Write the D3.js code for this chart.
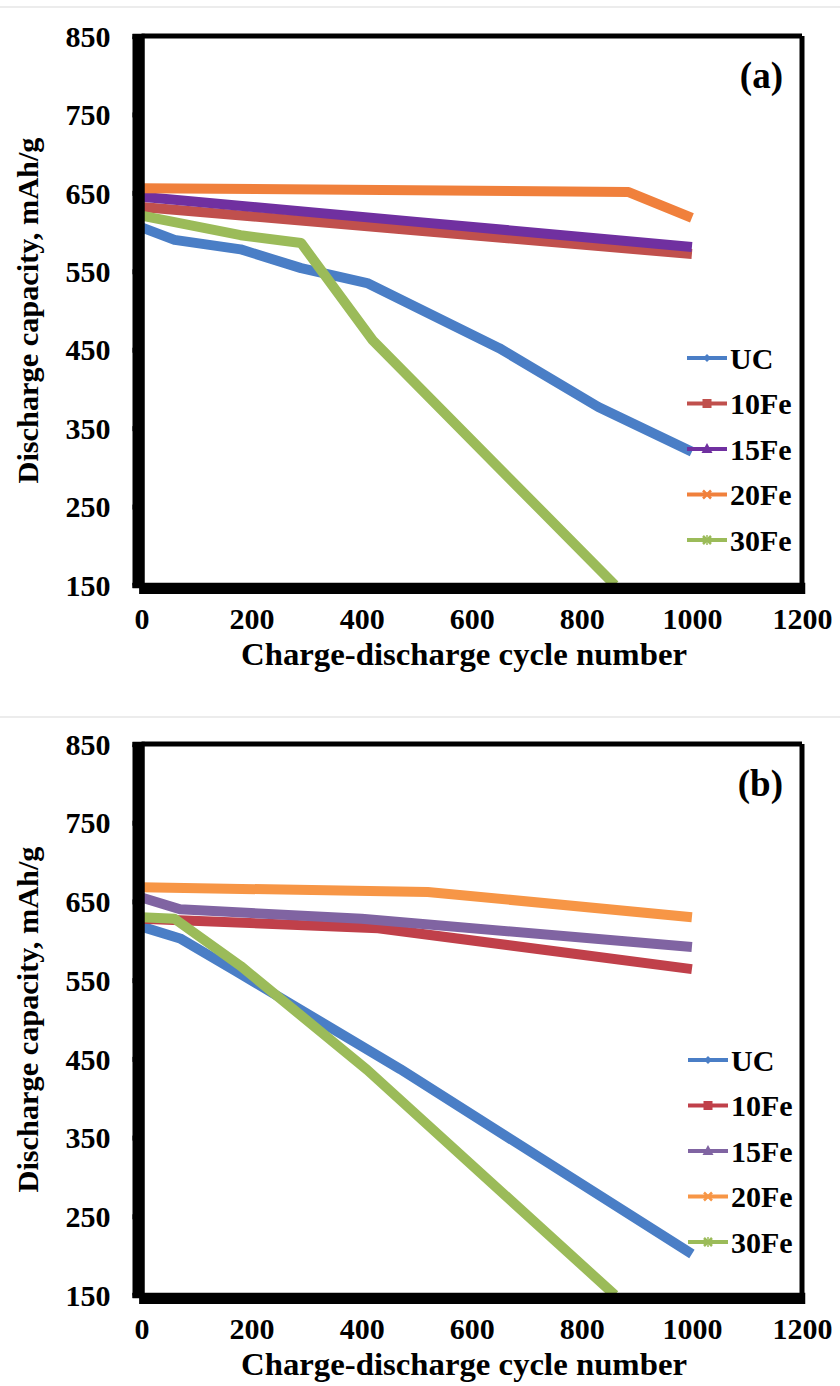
<!DOCTYPE html>
<html>
<head>
<meta charset="utf-8">
<script src="https://cdn.jsdelivr.net/npm/d3@7"></script>
<style>
  body { margin: 0; background: #fff; }
</style>
</head>
<body>
<div id="chart"></div>
<script>
'use strict'

const fontStack = '"Liberation Serif", "Times New Roman", Tinos, "DejaVu Serif", "Noto Serif", serif'

// legend labels, in drawing order
const seriesNames = ['UC', '10Fe', '15Fe', '20Fe', '30Fe']
const markerKinds = ['diamond', 'square', 'triangle', 'cross', 'star']

const xTicks = [0, 200, 400, 600, 800, 1000, 1200]
const yTicks = [150, 250, 350, 450, 550, 650, 750, 850]

// panel (a) : [cycle, discharge capacity]
const a_UC   = [[0, 606], [60, 590], [180, 578], [290, 554], [410, 535], [650, 452], [830, 377], [1000, 320]]
const a_10Fe = [[0, 632], [500, 602], [1000, 572]]
const a_15Fe = [[0, 645], [500, 613], [1000, 581]]
const a_20Fe = [[0, 656], [885, 651], [1000, 618]]
const a_30Fe = [[0, 621], [180, 596], [290, 586], [420, 462], [860, 150]]

// panel (b)
const b_UC   = [[0, 618], [70, 603], [170, 562], [470, 437], [1000, 202]]
const b_10Fe = [[0, 628], [430, 616], [1000, 564]]
const b_15Fe = [[0, 655], [70, 640], [400, 628], [1000, 592]]
const b_20Fe = [[0, 668], [520, 662], [1000, 630]]
const b_30Fe = [[0, 630], [60, 628], [180, 568], [410, 436], [860, 150]]

const colorsA = ['#4A7EC6', '#C0504D', '#7030A0', '#F0803C', '#9BBB59']
const colorsB = ['#4A7EC6', '#C0404A', '#8064A2', '#F79646', '#9BBB59']

////////////////////////////////////
//////////// svg setup /////////////
////////////////////////////////////

const svgWidth = 840
const svgHeight = 1386

const svg = d3.select('#chart').append('svg')
    .attr('width', svgWidth)
    .attr('height', svgHeight)

// faint frame lines between the two figures
svg.append('line').attr('x1', 0).attr('x2', svgWidth).attr('y1', 7).attr('y2', 7)
    .attr('stroke', '#e6e6e6').attr('stroke-width', 1.5)
svg.append('line').attr('x1', 0).attr('x2', svgWidth).attr('y1', 717).attr('y2', 717)
    .attr('stroke', '#e6e6e6').attr('stroke-width', 1.5)

function label(sel, size) {
    return sel.attr('font-family', fontStack)
        .attr('font-weight', 'bold')
        .attr('font-size', size)
        .attr('fill', '#000')
        .style('font-family', fontStack)
}

function drawPanel(cfg) {
    const left = 141.5, right = 802
    const top = cfg.top, bottom = cfg.bottom

    const xScale = d3.scaleLinear().domain([0, 1200]).range([left, right])
    const yScale = d3.scaleLinear().domain([150, 850]).range([bottom, top])

    const g = svg.append('g').attr('class', 'panel-' + cfg.tag)

    // data lines
    const line = d3.line()
        .x(d => xScale(d[0]))
        .y(d => yScale(d[1]))

    cfg.data.forEach((d, i) => {
        g.append('path')
            .datum(d)
            .attr('d', line)
            .attr('fill', 'none')
            .attr('stroke', cfg.colors[i])
            .attr('stroke-width', 10)
            .attr('stroke-linejoin', 'round')
    })

    // box: top and right plain lines
    g.append('line').attr('x1', left).attr('x2', right).attr('y1', top).attr('y2', top)
        .attr('stroke', '#000').attr('stroke-width', 5)
    g.append('line').attr('x1', right).attr('x2', right).attr('y1', top).attr('y2', bottom)
        .attr('stroke', '#000').attr('stroke-width', 5)

    // y-axis
    const yAxis = g.append('g')
        .attr('transform', `translate(${left},0)`)
        .call(d3.axisLeft(yScale).tickValues(yTicks).tickSize(9).tickPadding(22).tickFormat(d3.format('d')))
    yAxis.select('.domain').attr('stroke', '#000').attr('stroke-width', 5.5)
    yAxis.selectAll('.tick line').attr('stroke', '#000').attr('stroke-width', 5)
    label(yAxis, 30)
    label(yAxis.selectAll('.tick text'), 30).attr('dy', '0.34em')

    // x-axis
    const xAxis = g.append('g')
        .attr('transform', `translate(0,${bottom})`)
        .call(d3.axisBottom(xScale).tickValues(xTicks).tickSize(9).tickPadding(14).tickFormat(d3.format('d')))
    xAxis.select('.domain').attr('stroke', '#000').attr('stroke-width', 5.5)
    xAxis.selectAll('.tick line').attr('stroke', '#000').attr('stroke-width', 5)
    label(xAxis, 30)
    label(xAxis.selectAll('.tick text'), 30)

    // axis titles
    label(g.append('text'), 31)
        .attr('x', 464)
        .attr('y', bottom + 80)
        .attr('text-anchor', 'middle')
        .attr('textLength', 446)
        .attr('lengthAdjust', 'spacingAndGlyphs')
        .text('Charge-discharge cycle number')

    label(g.append('text'), 30)
        .attr('transform', `translate(38,${(top + bottom) / 2}) rotate(-90)`)
        .attr('text-anchor', 'middle')
        .attr('textLength', 346)
        .attr('lengthAdjust', 'spacingAndGlyphs')
        .text('Discharge capacity, mAh/g')

    // panel tag
    label(g.append('text'), 37)
        .attr('x', 783)
        .attr('y', top + 52)
        .attr('text-anchor', 'end')
        .text(`(${cfg.tag})`)

    // legend
    const legend = g.append('g')
    seriesNames.forEach((name, i) => {
        const ly = cfg.legendY + i * 45.5
        const c = cfg.colors[i]
        legend.append('line')
            .attr('x1', cfg.legendX).attr('x2', cfg.legendX + 40)
            .attr('y1', ly).attr('y2', ly)
            .attr('stroke', c).attr('stroke-width', 4)
        drawMarker(legend, markerKinds[i], cfg.legendX + 20, ly, c)
        label(legend.append('text'), 30)
            .attr('x', cfg.legendX + 43)
            .attr('y', ly)
            .attr('dy', '0.35em')
            .text(name)
    })
}

function drawMarker(sel, kind, cx, cy, color) {
    if (kind === 'diamond') {
        sel.append('path').attr('d', `M${cx},${cy - 4}L${cx + 4},${cy}L${cx},${cy + 4}L${cx - 4},${cy}Z`).attr('fill', color)
    } else if (kind === 'square') {
        sel.append('rect').attr('x', cx - 4.5).attr('y', cy - 4.5).attr('width', 9).attr('height', 9).attr('fill', color)
    } else if (kind === 'triangle') {
        sel.append('path').attr('d', `M${cx},${cy - 6}L${cx + 5.5},${cy + 4}L${cx - 5.5},${cy + 4}Z`).attr('fill', color)
    } else {
        sel.append('path').attr('d', `M${cx - 4},${cy - 4}L${cx + 4},${cy + 4}M${cx + 4},${cy - 4}L${cx - 4},${cy + 4}`)
            .attr('stroke', color).attr('stroke-width', 2.5)
        if (kind === 'star') {
            sel.append('line').attr('x1', cx).attr('x2', cx).attr('y1', cy - 5).attr('y2', cy + 5)
                .attr('stroke', color).attr('stroke-width', 1.5)
        }
    }
}

drawPanel({
    tag: 'a', top: 36, bottom: 585,
    data: [a_UC, a_10Fe, a_15Fe, a_20Fe, a_30Fe],
    colors: colorsA,
    legendX: 687, legendY: 358
})

drawPanel({
    tag: 'b', top: 744, bottom: 1295,
    data: [b_UC, b_10Fe, b_15Fe, b_20Fe, b_30Fe],
    colors: colorsB,
    legendX: 688, legendY: 1060
})
</script>
</body>
</html>
